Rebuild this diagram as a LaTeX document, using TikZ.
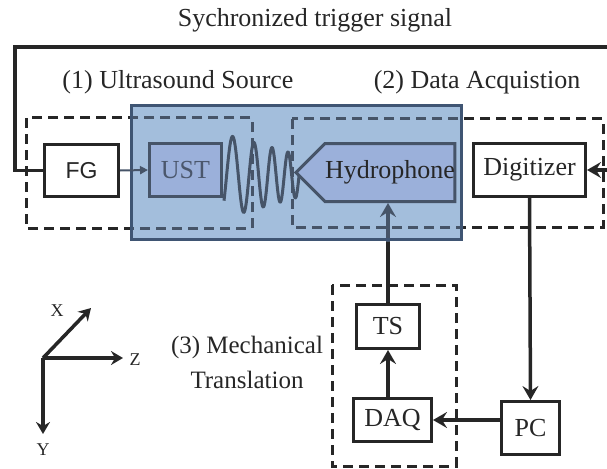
\documentclass[tikz,border=0pt]{standalone}
\usepackage{fontspec}
\setmainfont{Liberation Serif}
\newfontfamily\fgfont{Liberation Sans}
\usepackage{xcolor}
\usepackage{tikz}
\usetikzlibrary{arrows.meta,shapes.symbols}

\definecolor{ink}{RGB}{38,38,38}
\definecolor{bluebg}{RGB}{163,190,220}
\definecolor{blueedge}{RGB}{63,85,115}
\definecolor{boxblue}{RGB}{155,176,218}
\definecolor{boxedge}{RGB}{70,84,104}
\definecolor{usttext}{RGB}{75,87,108}

\pgfdeclarelayer{under}
\pgfdeclarelayer{tank}
\pgfsetlayers{under,tank,main}

\begin{document}
\begin{tikzpicture}[x=1pt,y=-1pt]
\useasboundingbox (0,0) rectangle (607,468);
\clip (0,0) rectangle (607,468);

\tikzstyle{blk}=[draw=ink,line width=3pt,fill=white,text=ink,inner sep=0pt,font=\fontsize{26}{30}\selectfont]
\tikzstyle{inblk}=[blk,draw=boxedge,fill=boxblue]
\tikzstyle{groupbox}=[draw=ink,line width=3pt,dash pattern=on 10pt off 6pt]
\tikzstyle{wire}=[draw=ink,line width=3.5pt,-{Stealth[length=14pt,width=16pt,inset=5pt]}]
\tikzstyle{axis}=[draw=ink,line width=3.5pt,-{Stealth[length=12pt,width=14pt,inset=4pt]}]
\tikzstyle{lbl}=[text=ink,font=\fontsize{26}{30}\selectfont]
\tikzstyle{axlbl}=[text=ink,font=\fontsize{18}{20}\selectfont]

%% Blocks
\node [blk,minimum width=74pt,minimum height=52pt,font=\fgfont\fontsize{23}{28}\selectfont] (FG) at (81.5,170.5) {FG};
\node [inblk,minimum width=72pt,minimum height=53pt,text=usttext] (UST) at (185.5,170) {UST};
\node [inblk,signal,signal to=west,minimum width=150pt,minimum height=58pt] (Hyd) at (390,172.5) {Hydrophone};
\node [blk,minimum width=112pt,minimum height=53pt] (Dig) at (529.5,170) {Digitizer};
\node [blk,minimum width=63pt,minimum height=44pt] (TS) at (388,326.5) {TS};
\node [blk,minimum width=78pt,minimum height=43pt] (DAQ) at (392.5,420) {DAQ};
\node [blk,minimum width=58pt,minimum height=53pt] (PC) at (530.5,428) {PC};

%% Labels
\node [lbl] (sync) at (315,20) {Sychronized trigger signal};
\node [lbl] (src) at (178,82) {(1) Ultrasound Source};
\node [lbl] (acq) at (477,82) {(2) Data Acquistion};
\node [lbl,align=center,font=\fontsize{25}{35}\selectfont] (mech) at (247,362) {(3) Mechanical\\Translation};

%% Sound wave between UST and hydrophone
\draw [boxedge,line width=3pt,line join=round] plot[domain=0:1,samples=180,smooth]
    ({224+75*\x},{176-42*(1-0.5*\x)*sin(360*(-0.1+2.9*\x+1.2*\x*\x))});

%% Groups and links under the tank
\def\groups{
    \draw [groupbox] (26,118) rectangle (252,228);
    \draw [groupbox] (292,119) rectangle (603,227);
    \draw [groupbox] (332,285) rectangle (456,466);
    \draw [wire] (TS.north) -- (TS.north |- Hyd.south);
}
\begin{pgfonlayer}{under}
    \groups
\end{pgfonlayer}

%% Tank, with what lies under it seen through
\begin{pgfonlayer}{tank}
    \fill [bluebg] (130,104) rectangle (463,241);
    \begin{scope}
        \clip (130,104) rectangle (463,241);
        \tikzstyle{groupbox}=[draw=boxedge,line width=3pt,dash pattern=on 10pt off 6pt]
        \tikzstyle{wire}=[draw=boxedge,line width=3.5pt,-{Stealth[length=14pt,width=16pt,inset=5pt]}]
        \groups
    \end{scope}
    \draw [blueedge,line width=3pt] (131.5,105.5) rectangle (461.5,239.5);
    \draw [boxedge,line width=2pt,-{Triangle[length=8pt,width=8pt]}] (FG.east) -- (UST.west);
\end{pgfonlayer}

%% Trigger and data links
\coordinate (tl) at (15,47);
\coordinate (tr) at (612,47);
\draw [wire] (FG.west) -| (tl) -- (tr) |- (Dig.east);
\draw [wire] (Dig.south) -- (PC.north);
\draw [wire] (PC.west |- DAQ.east) -- (DAQ.east);
\draw [wire] (TS.south |- DAQ.north) -- (TS.south);

%% Axes
\coordinate (O) at (43,358);
\coordinate (ax) at (91,308);
\coordinate (az) at (123,358);
\coordinate (ay) at (43,434);
\draw [axis] (O) -- (ax);
\draw [axis] (O) -- (az);
\draw [axis] (O) -- (ay);
\node [axlbl] (X) at (57,311) {X};
\node [axlbl] (Z) at (135,360) {Z};
\node [axlbl] (Y) at (43,450) {Y};

\end{tikzpicture}
\end{document}
